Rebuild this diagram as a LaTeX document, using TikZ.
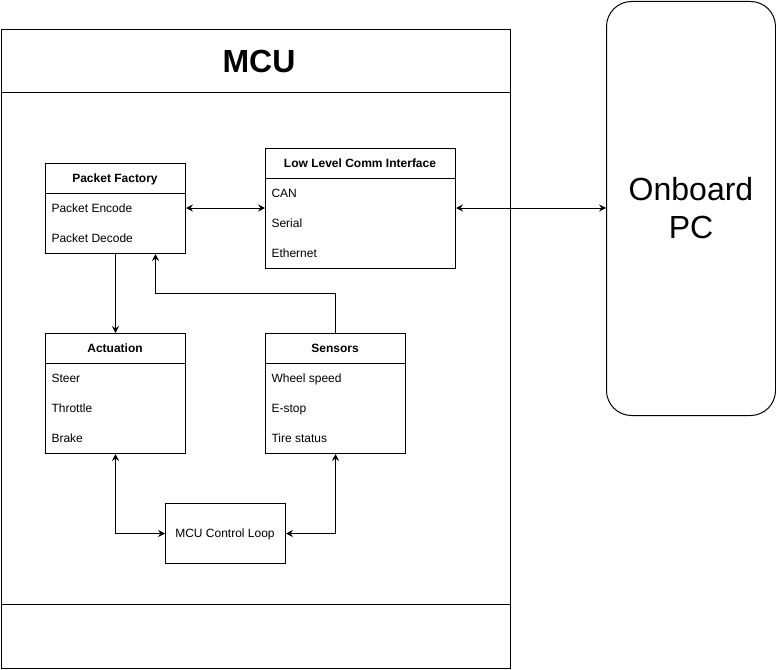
\documentclass[tikz,border=0pt]{standalone}
\usepackage{fontspec}
\setmainfont{Liberation Sans}
\usetikzlibrary{arrows.meta}
\begin{document}
\begin{tikzpicture}[x=1pt,y=-1pt,line width=1pt,
  frame/.style={draw,anchor=north west,inner sep=0pt},
  head/.style={font=\fontsize{12}{14}\selectfont\bfseries,inner sep=0pt,anchor=base},
  item/.style={font=\fontsize{12}{14}\selectfont,anchor=base west,inner sep=0pt},
  tip/.tip={Stealth[length=7pt,width=7pt,inset=2.5pt]},
  link/.style={-tip},
  dlink/.style={tip-tip}]
\useasboundingbox (0,0) rectangle (776,669);

% MCU container
\node[frame,minimum width=509pt,minimum height=639pt] (mcu) at (1,29) {};
\draw (1,92) -- (510,92);
\draw (1,604) -- (510,604);
\node[font=\fontsize{32}{38}\selectfont\bfseries,inner sep=0pt,anchor=base] (mcutitle) at (259,72) {MCU};

% Onboard PC
\node[draw,rounded corners=25pt,minimum width=169pt,minimum height=414pt,anchor=north west,
      align=center,font=\fontsize{32}{38}\selectfont] (pc) at (606,1) {Onboard\\PC};

% Packet Factory
\node[frame,minimum width=140pt,minimum height=90pt] (pf) at (45,163) {};
\draw (45,193) -- (185,193);
\node[head] (pfh) at (115,182.3) {Packet Factory};
\node[item] (pfe) at (51,212.3) {Packet Encode};
\node[item] (pfd) at (51,242.3) {Packet Decode};
\coordinate (pfmid) at (51,208);

% Low Level Comm Interface
\node[frame,minimum width=190pt,minimum height=120pt] (ll) at (265,148) {};
\draw (265,178) -- (455,178);
\node[head] (llh) at (360,167.3) {Low Level Comm Interface};
\node[item] (llc) at (271,197.3) {CAN};
\node[item] (lls) at (271,227.3) {Serial};
\node[item] (lle) at (271,257.3) {Ethernet};

% Actuation
\node[frame,minimum width=140pt,minimum height=120pt] (act) at (45,333) {};
\draw (45,363) -- (185,363);
\node[head] (acth) at (115,352.3) {Actuation};
\node[item] (act1) at (51,382.3) {Steer};
\node[item] (act2) at (51,412.3) {Throttle};
\node[item] (act3) at (51,442.3) {Brake};

% Sensors
\node[frame,minimum width=140pt,minimum height=120pt] (sens) at (265,333) {};
\draw (265,363) -- (405,363);
\node[head] (sensh) at (335,352.3) {Sensors};
\node[item] (sens1) at (271,382.3) {Wheel speed};
\node[item] (sens2) at (271,412.3) {E-stop};
\node[item] (sens3) at (271,442.3) {Tire status};

% MCU Control Loop
\node[frame,minimum width=120pt,minimum height=60pt] (loop) at (165,503) {};
\node[font=\fontsize{12}{14}\selectfont,inner sep=0pt,anchor=base] (looplabel) at (225,537.3) {MCU Control Loop};

% Connectors
\draw[dlink] (pf.east |- pfmid) -- (ll.west |- pfmid);
\draw[dlink] (ll.east |- pfmid) -- (pc.west |- pfmid);
\draw[link] (pf.south) -- (act.north);
\draw[link] (sens.north) -- ++(0,-40) -| ([xshift=40pt]pf.south);
\draw[dlink] (act.south) |- (loop.west);
\draw[dlink] (sens.south) |- (loop.east);
\end{tikzpicture}
\end{document}
